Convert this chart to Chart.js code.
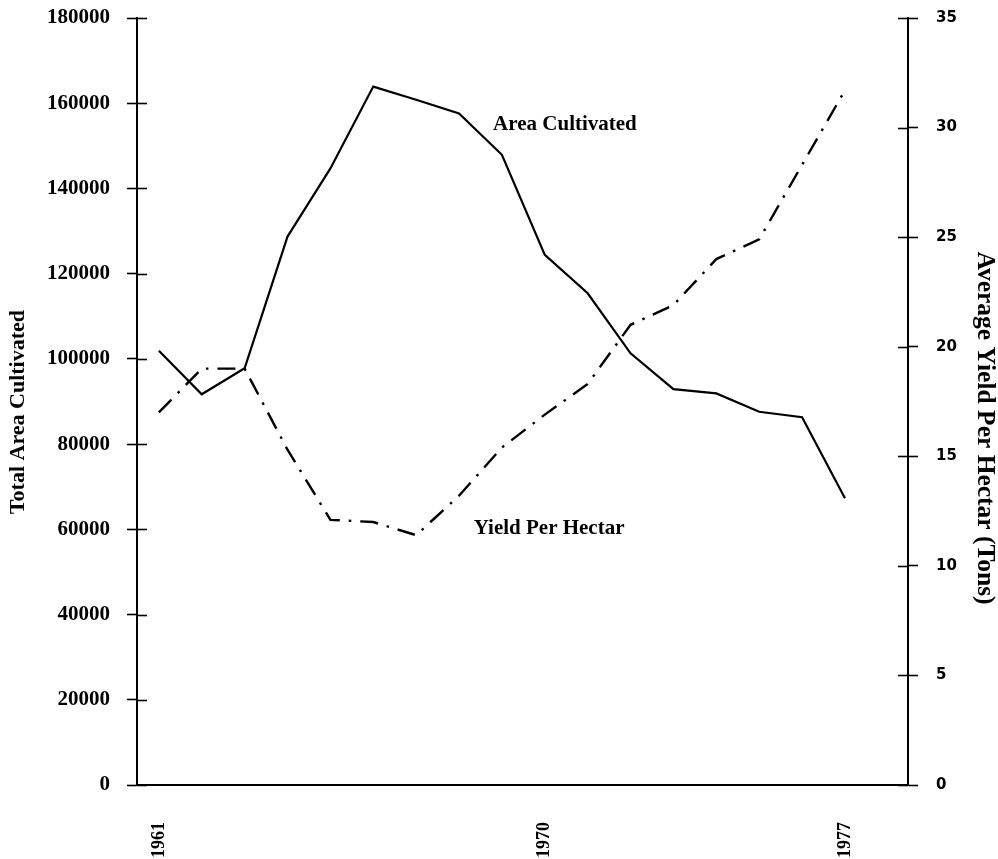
<!DOCTYPE html>
<html>
<head>
<meta charset="utf-8">
<script src="https://cdn.jsdelivr.net/npm/chart.js@4.4.1/dist/chart.umd.min.js"></script>
<style>
  html, body { margin: 0; padding: 0; background: #ffffff; }
  #wrap { width: 998px; height: 859px; position: relative; }
</style>
</head>
<body>
<div id="wrap"><canvas id="c" width="998" height="859"></canvas></div>
<script>
// ---- Data ----
const years = [1961, 1962, 1963, 1964, 1965, 1966, 1967, 1968, 1969, 1970, 1971, 1972, 1973, 1974, 1975, 1976, 1977];
const areaCultivated = [101900, 91700, 97800, 128700, 144700, 163900, 160800, 157600, 147900, 124400, 115400, 101300, 92900, 91900, 87600, 86300, 67300];
const yieldPerHectar = [17.0, 19.0, 19.0, 15.3, 12.1, 12.0, 11.4, 13.2, 15.4, 16.9, 18.3, 21.0, 21.9, 24.0, 24.9, 28.3, 31.7];
const xTickYears = [1961, 1970, 1977];
const leftTickStep = 20000;
const rightTickStep = 5;

const leftTitle = 'Total Area Cultivated';
const rightTitle = 'Average Yield Per Hectar (Tons)';
const areaLabel = 'Area Cultivated';
const yieldLabel = 'Yield Per Hectar';

const serifBold = '"Liberation Serif", "Times New Roman", serif';

const areaPoints = years.map((yr, i) => ({ x: yr, y: areaCultivated[i] }));
const yieldPoints = years.map((yr, i) => ({ x: yr, y: yieldPerHectar[i] }));

const decorPlugin = {
  id: 'decor',
  afterDraw(chart) {
    const ctx = chart.ctx;
    const ca = chart.chartArea;
    const sy = chart.scales.y, sy1 = chart.scales.y1, sx = chart.scales.x;
    ctx.save();
    ctx.strokeStyle = '#000';
    ctx.lineWidth = 1.6;
    // inward halves of the crossing tick marks
    sy.ticks.forEach(t => {
      const py = Math.round(sy.getPixelForValue(t.value)) + 0.5;
      ctx.beginPath(); ctx.moveTo(ca.left, py); ctx.lineTo(ca.left + 10, py); ctx.stroke();
    });
    sy1.ticks.forEach(t => {
      const py = Math.round(sy1.getPixelForValue(t.value)) + 0.5;
      ctx.beginPath(); ctx.moveTo(ca.right - 10, py); ctx.lineTo(ca.right, py); ctx.stroke();
    });
    // series labels
    ctx.fillStyle = '#000';
    ctx.textAlign = 'center';
    ctx.textBaseline = 'middle';
    ctx.font = 'bold 21px ' + serifBold;
    ctx.fillText(areaLabel, sx.getPixelForValue(1970.47), sy.getPixelForValue(154900));
    ctx.fillText(yieldLabel, sx.getPixelForValue(1970.1), sy1.getPixelForValue(11.7));
    // axis titles
    ctx.save();
    ctx.translate(18, 412);
    ctx.rotate(-Math.PI / 2);
    ctx.font = 'bold 22px ' + serifBold;
    ctx.fillText(leftTitle, 0, 0);
    ctx.restore();
    ctx.save();
    ctx.translate(985, 428);
    ctx.rotate(Math.PI / 2);
    ctx.font = 'bold 25.5px ' + serifBold;
    ctx.fillText(rightTitle, 0, 0);
    ctx.restore();
    ctx.restore();
  }
};

new Chart(document.getElementById('c'), {
  type: 'line',
  data: {
    datasets: [
      {
        label: areaLabel,
        data: areaPoints,
        yAxisID: 'y',
        borderColor: '#000',
        borderWidth: 2.2,
        pointRadius: 0,
        tension: 0,
        fill: false
      },
      {
        label: yieldLabel,
        data: yieldPoints,
        yAxisID: 'y1',
        borderColor: '#000',
        borderWidth: 2.4,
        borderDash: [18, 9, 2.5, 9],
        pointRadius: 0,
        tension: 0,
        fill: false
      }
    ]
  },
  options: {
    responsive: false,
    animation: false,
    layout: { padding: 0 },
    plugins: { legend: { display: false }, tooltip: { enabled: false } },
    scales: {
      x: {
        type: 'linear',
        min: 1960.49,
        max: 1978.47,
        afterBuildTicks: s => { s.ticks = xTickYears.map(v => ({ value: v })); },
        afterFit: s => { s.height = 74; s.paddingLeft = 0; s.paddingRight = 0; },
        ticks: {
          callback: v => String(v),
          autoSkip: false,
          maxRotation: 90,
          minRotation: 90,
          padding: 37,
          color: '#000',
          font: { family: serifBold, size: 18, weight: 'bold' }
        },
        grid: { display: false, drawTicks: false },
        border: { display: true, color: '#000', width: 2 }
      },
      y: {
        position: 'left',
        min: 0,
        max: 180000,
        afterFit: s => { s.width = 137; s.paddingTop = 18; s.paddingBottom = 0; },
        ticks: {
          stepSize: leftTickStep,
          callback: v => String(v),
          padding: 17,
          color: '#000',
          font: { family: serifBold, size: 21, weight: 'bold' }
        },
        grid: { drawOnChartArea: false, drawTicks: true, tickLength: 10, tickColor: '#000', tickWidth: 1.6 },
        border: { display: true, color: '#000', width: 2 }
      },
      y1: {
        position: 'right',
        min: 0,
        max: 35,
        afterFit: s => { s.width = 90; s.paddingTop = 18; s.paddingBottom = 0; },
        ticks: {
          stepSize: rightTickStep,
          callback: v => String(v),
          padding: 18,
          color: '#000',
          font: { family: '"DejaVu Sans", sans-serif', size: 15, weight: 'bold' }
        },
        grid: { drawOnChartArea: false, drawTicks: true, tickLength: 10, tickColor: '#000', tickWidth: 1.6 },
        border: { display: true, color: '#000', width: 2 }
      }
    }
  },
  plugins: [decorPlugin]
});
</script>
</body>
</html>
